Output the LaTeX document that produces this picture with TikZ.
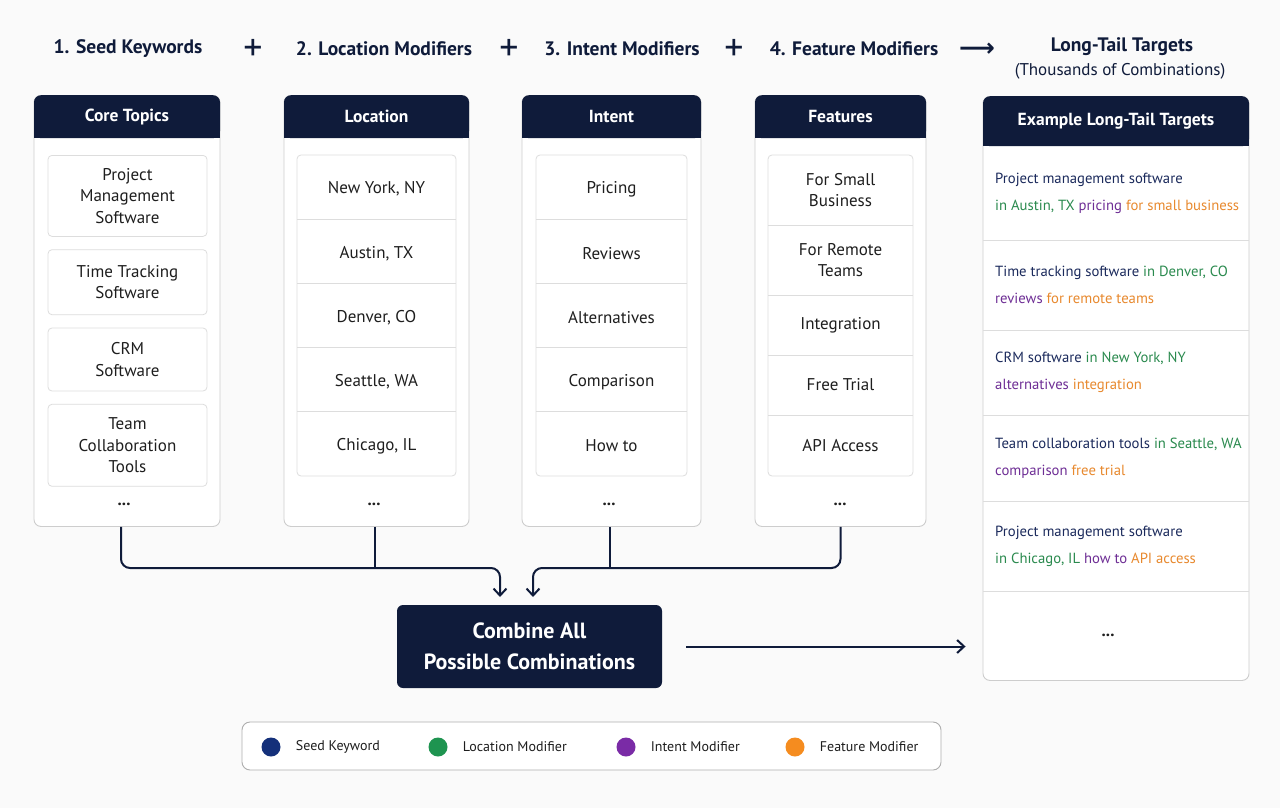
\documentclass[tikz,border=0pt]{standalone}
\usepackage{fontspec}
\setmainfont{PT Sans}
\newfontfamily\arrowfont{DejaVu Sans}
\usetikzlibrary{positioning,arrows.meta}

\definecolor{navy}{HTML}{0F1B3A}
\definecolor{ink}{HTML}{1E1E1E}
\definecolor{rim}{HTML}{CDCDCD}
\definecolor{cellrim}{HTML}{DDDDDD}
\definecolor{page}{HTML}{FAFAFA}
\definecolor{seedc}{HTML}{14307A}
\definecolor{locc}{HTML}{1E9450}
\definecolor{intc}{HTML}{7A2BA6}
\definecolor{featc}{HTML}{F58C1F}
\definecolor{seedtxt}{HTML}{1B2A5C}
\definecolor{loctxt}{HTML}{2A8A4E}
\definecolor{inttxt}{HTML}{6E2E95}
\definecolor{feattxt}{HTML}{E8892E}

\newcommand{\kwSeed}[1]{\textcolor{seedtxt}{#1}}
\newcommand{\kwLoc}[1]{\textcolor{loctxt}{#1}}
\newcommand{\kwIntent}[1]{\textcolor{inttxt}{#1}}
\newcommand{\kwFeat}[1]{\textcolor{feattxt}{#1}}

\tikzset{panel/.style={draw=rim,fill=white,line width=0.9pt,rounded corners=7pt,anchor=north}}
\tikzset{header/.style={fill=navy,text=white,rounded corners=7pt,anchor=north,font=\bfseries\fontsize{17.5}{20}\selectfont}}
\tikzset{item/.style={draw=cellrim,fill=white,line width=0.8pt,rounded corners=4pt,align=center,text=ink,inner sep=0pt,font=\fontsize{17}{21.5}\selectfont}}
\tikzset{row/.style={align=center,text=ink,inner sep=0pt,outer sep=0pt,anchor=north,font=\fontsize{17}{21.5}\selectfont}}
\tikzset{cellbox/.style={draw=cellrim,line width=0.8pt,rounded corners=4pt}}
\tikzset{divider/.style={draw=cellrim,line width=0.8pt}}
\tikzset{more/.style={text=ink,font=\bfseries\fontsize{17}{18}\selectfont}}
\tikzset{title/.style={text=navy,font=\bfseries\fontsize{19.5}{22}\selectfont}}
\tikzset{joiner/.style={text=navy,font=\fontsize{38}{38}\selectfont}}
\tikzset{target/.style={minimum width=266pt,inner sep=0pt,outer sep=0pt,anchor=north}}
\tikzset{example/.style={anchor=west,align=left,inner sep=0pt,font=\fontsize{14.7}{27}\selectfont}}
\tikzset{flow/.style={draw=navy,line width=2pt,rounded corners=9pt}}
\tikzset{tip/.style={-{Straight Barb[length=7pt,width=13pt]}}}
\tikzset{dot/.style={circle,minimum size=19pt,inner sep=0pt}}
\tikzset{legtext/.style={text=ink,inner sep=0pt,font=\fontsize{14}{16}\selectfont}}

\begin{document}
\begin{tikzpicture}[x=1pt,y=-1pt]
  \useasboundingbox (0,0) rectangle (1280,808);
  \fill[page] (0,0) rectangle (1280,808);

  % titles
  \node[title] (seedTitle) at (128,49) {1. Seed Keywords};
  \node[joiner] (plus1) at (253,50) {+};
  \node[title] (locTitle) at (384,49) {2. Location Modifiers};
  \node[joiner] (plus2) at (509,50) {+};
  \node[title] (intentTitle) at (622,49) {3. Intent Modifiers};
  \node[joiner] (plus3) at (734,50) {+};
  \node[title] (featTitle) at (854,49) {4. Feature Modifiers};
  \node[text=navy,font=\arrowfont\bfseries\fontsize{25}{25}\selectfont] (toTargets) at (977,50) {⟶};
  \node[title] (tailTitle) at (1122,47) {Long-Tail Targets};
  \node[text=navy,font=\fontsize{17}{18}\selectfont] (tailSub) at (1120,71) {(Thousands of Combinations)};

  % seed keywords
  \node[panel,minimum width=186pt,minimum height=431pt] (core) at (127,95) {};
  \node[header,minimum width=186pt,minimum height=43pt] (coreHead) at (core.north) {Core Topics};
  \fill[navy] ([yshift=8pt]coreHead.south west) rectangle (coreHead.south east);
  \node[item,minimum width=159pt,minimum height=81pt,anchor=north] (topic1) at (127.5,155) {Project\\Management\\Software};
  \node[item,minimum width=159pt,minimum height=65pt,below=12.5pt of topic1] (topic2) {Time Tracking\\Software};
  \node[item,minimum width=159pt,minimum height=63pt,below=12.5pt of topic2] (topic3) {CRM\\Software};
  \node[item,minimum width=159pt,minimum height=82pt,below=12.5pt of topic3] (topic4) {Team\\Collaboration\\Tools};
  \node[more] (coreMore) at (124,504) {...};

  % location modifiers
  \node[panel,minimum width=185pt,minimum height=431pt] (loc) at (376.5,95) {};
  \node[header,minimum width=185pt,minimum height=43pt] (locHead) at (loc.north) {Location};
  \fill[navy] ([yshift=8pt]locHead.south west) rectangle (locHead.south east);
  \node[row,minimum width=159pt,minimum height=64.2pt] (city1) at (376.5,157) {New York, NY};
  \node[row,minimum width=159pt,minimum height=64.2pt,below=0pt of city1] (city2) {Austin, TX};
  \node[row,minimum width=159pt,minimum height=64.2pt,below=0pt of city2] (city3) {Denver, CO};
  \node[row,minimum width=159pt,minimum height=64.2pt,below=0pt of city3] (city4) {Seattle, WA};
  \node[row,minimum width=159pt,minimum height=64.2pt,below=0pt of city4] (city5) {Chicago, IL};
  \draw[cellbox] ([yshift=2pt]city1.north west) rectangle ([yshift=2pt]city5.south east);
  \draw[divider] ([yshift=2pt]city1.south west) -- ([yshift=2pt]city1.south east)
    ([yshift=2pt]city2.south west) -- ([yshift=2pt]city2.south east)
    ([yshift=2pt]city3.south west) -- ([yshift=2pt]city3.south east)
    ([yshift=2pt]city4.south west) -- ([yshift=2pt]city4.south east);
  \node[more] (locMore) at (374,504) {...};

  % intent modifiers
  \node[panel,minimum width=179pt,minimum height=431pt] (intent) at (611.5,95) {};
  \node[header,minimum width=179pt,minimum height=43pt] (intentHead) at (intent.north) {Intent};
  \fill[navy] ([yshift=8pt]intentHead.south west) rectangle (intentHead.south east);
  \node[row,minimum width=151pt,minimum height=64.2pt] (ask1) at (611.5,157) {Pricing};
  \node[row,minimum width=151pt,minimum height=64.2pt,below=0pt of ask1] (ask2) {Reviews};
  \node[row,minimum width=151pt,minimum height=64.2pt,below=0pt of ask2] (ask3) {Alternatives};
  \node[row,minimum width=151pt,minimum height=64.2pt,below=0pt of ask3] (ask4) {Comparison};
  \node[row,minimum width=151pt,minimum height=64.2pt,below=0pt of ask4] (ask5) {How to};
  \draw[cellbox] ([yshift=2pt]ask1.north west) rectangle ([yshift=2pt]ask5.south east);
  \draw[divider] ([yshift=2pt]ask1.south west) -- ([yshift=2pt]ask1.south east)
    ([yshift=2pt]ask2.south west) -- ([yshift=2pt]ask2.south east)
    ([yshift=2pt]ask3.south west) -- ([yshift=2pt]ask3.south east)
    ([yshift=2pt]ask4.south west) -- ([yshift=2pt]ask4.south east);
  \node[more] (intentMore) at (609,504) {...};

  % feature modifiers
  \node[panel,minimum width=171pt,minimum height=431pt] (feat) at (840.5,95) {};
  \node[header,minimum width=171pt,minimum height=43pt] (featHead) at (feat.north) {Features};
  \fill[navy] ([yshift=8pt]featHead.south west) rectangle (featHead.south east);
  \node[row,minimum width=145pt,minimum height=70pt] (perk1) at (840.5,155) {For Small\\Business};
  \node[row,minimum width=145pt,minimum height=70pt,below=0pt of perk1] (perk2) {For Remote\\Teams};
  \node[row,minimum width=145pt,minimum height=60pt,below=0pt of perk2] (perk3) {Integration};
  \node[row,minimum width=145pt,minimum height=60pt,below=0pt of perk3] (perk4) {Free Trial};
  \node[row,minimum width=145pt,minimum height=61pt,below=0pt of perk4] (perk5) {API Access};
  \draw[cellbox] (perk1.north west) rectangle (perk5.south east);
  \draw[divider] (perk1.south west) -- (perk1.south east) (perk2.south west) -- (perk2.south east)
    (perk3.south west) -- (perk3.south east) (perk4.south west) -- (perk4.south east);
  \node[more] (featMore) at (840,504) {...};

  % long-tail targets
  \node[panel,minimum width=266pt,minimum height=584pt] (tgt) at (1116,96) {};
  \node[header,minimum width=266pt,minimum height=50pt] (tgtHead) at (tgt.north) {Example Long-Tail Targets};
  \fill[navy] ([yshift=8pt]tgtHead.south west) rectangle (tgtHead.south east);
  \node[target,minimum height=94pt] (ex1) at (1116,146) {};
  \node[target,minimum height=90pt,below=0pt of ex1] (ex2) {};
  \node[target,minimum height=85pt,below=0pt of ex2] (ex3) {};
  \node[target,minimum height=86pt,below=0pt of ex3] (ex4) {};
  \node[target,minimum height=90pt,below=0pt of ex4] (ex5) {};
  \node[target,minimum height=89pt,below=0pt of ex5] (ex6) {};
  \draw[divider] (ex1.south west) -- (ex1.south east) (ex2.south west) -- (ex2.south east)
    (ex3.south west) -- (ex3.south east) (ex4.south west) -- (ex4.south east)
    (ex5.south west) -- (ex5.south east);
  \node[example] (ex1Text) at ([xshift=12pt]ex1.west) {\kwSeed{Project management software}\\\kwLoc{in Austin, TX} \kwIntent{pricing} \kwFeat{for small business}};
  \node[example] (ex2Text) at ([xshift=12pt]ex2.west) {\kwSeed{Time tracking software} \kwLoc{in Denver, CO}\\\kwIntent{reviews} \kwFeat{for remote teams}};
  \node[example] (ex3Text) at ([xshift=12pt]ex3.west) {\kwSeed{CRM software} \kwLoc{in New York, NY}\\\kwIntent{alternatives} \kwFeat{integration}};
  \node[example] (ex4Text) at ([xshift=12pt]ex4.west) {\kwSeed{Team collaboration tools} \kwLoc{in Seattle, WA}\\\kwIntent{comparison} \kwFeat{free trial}};
  \node[example] (ex5Text) at ([xshift=12pt]ex5.west) {\kwSeed{Project management software}\\\kwLoc{in Chicago, IL} \kwIntent{how to} \kwFeat{API access}};
  \node[more] (tgtMore) at ([xshift=-8pt]ex6.center) {...};

  % combine
  \node[fill=navy,text=white,rounded corners=6pt,minimum width=265pt,minimum height=83pt,align=center,
    font=\bfseries\fontsize{22}{31}\selectfont] (comb) at (529.5,646.5) {Combine All\\Possible Combinations};
  \coordinate (bus) at (0,568);
  \coordinate (inL) at (500,597);
  \coordinate (inR) at (533,597);
  \draw[flow,tip] ([xshift=-6pt]core.south) |- (inL |- bus) -- (inL);
  \draw[flow] ([xshift=-2pt]loc.south) -- ([xshift=-2pt]loc.south |- bus);
  \draw[flow,tip] (feat.south) |- (inR |- bus) -- (inR);
  \draw[flow] ([xshift=-2pt]intent.south) -- ([xshift=-2pt]intent.south |- bus);
  \draw[flow,tip,shorten <=24pt,shorten >=17pt] (comb.east) -- (comb.east -| tgt.west);

  % legend
  \node[draw=rim!85!black,fill=white,line width=0.9pt,rounded corners=8pt,minimum width=699pt,minimum height=48pt] (legend) at (591.5,746) {};
  \node[dot,fill=seedc] (dotSeed) at (271,747) {};
  \node[legtext,right=15pt of dotSeed] (txtSeed) {Seed Keyword};
  \node[dot,fill=locc] (dotLoc) at (438,747) {};
  \node[legtext,right=15pt of dotLoc] (txtLoc) {Location Modifier};
  \node[dot,fill=intc] (dotIntent) at (626,747) {};
  \node[legtext,right=15pt of dotIntent] (txtIntent) {Intent Modifier};
  \node[dot,fill=featc] (dotFeat) at (795,747) {};
  \node[legtext,right=15pt of dotFeat] (txtFeat) {Feature Modifier};
\end{tikzpicture}
\end{document}
